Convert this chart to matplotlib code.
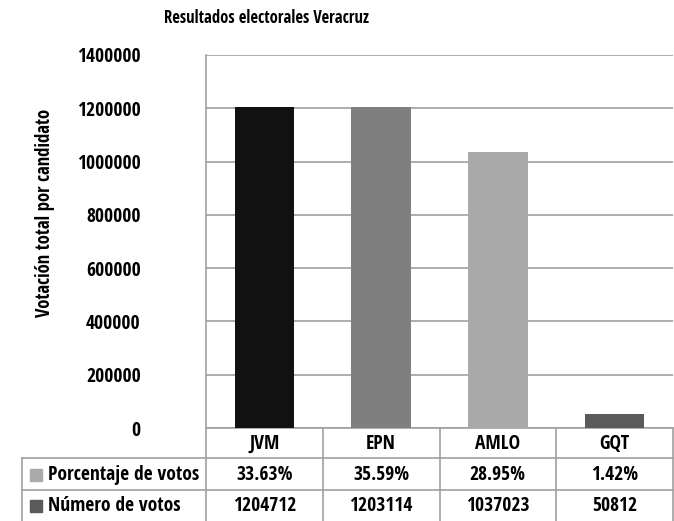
import matplotlib
matplotlib.use("Agg")
import matplotlib.pyplot as plt
from matplotlib.transforms import blended_transform_factory
from matplotlib.patches import Rectangle

candidates = ["JVM", "EPN", "AMLO", "GQT"]
votes = [1204712, 1203114, 1037023, 50812]
percentages = ["33.63%", "35.59%", "28.95%", "1.42%"]
vote_labels = ["1204712", "1203114", "1037023", "50812"]
row_labels = ["Porcentaje de votos", "Número de votos"]
bar_colors = ["#111111", "#7f7f7f", "#a9a9a9", "#5a5a5a"]
legend_colors = ["#aaaaaa", "#5a5a5a"]
yticks = [0, 200000, 400000, 600000, 800000, 1000000, 1200000, 1400000]

plt.rcParams['font.family'] = ['Open Sans Condensed', 'DejaVu Sans']
plt.rcParams['font.weight'] = 'bold'
FS = 14

W, H = 674, 521
fig = plt.figure(figsize=(W / 100, H / 100), dpi=100)
ax = fig.add_axes([206 / W, 1 - 428 / H, 467 / W, (428 - 55) / H])

x = list(range(len(candidates)))
ax.bar(x, votes, width=0.51, color=bar_colors, zorder=3)
ax.set_xlim(-0.5, len(candidates) - 0.5)
ax.set_ylim(0, 1400000)
ax.set_yticks(yticks)
ax.set_yticklabels([str(v) for v in yticks], fontsize=FS, fontweight='bold')
ax.tick_params(axis='y', length=0, pad=47)
ax.set_xticks([])
grid_c = "#a0a0a0"
ax.yaxis.grid(True, color=grid_c, linewidth=1.2, zorder=0)
for s in ["top", "right", "bottom"]:
    ax.spines[s].set_visible(False)
ax.spines["left"].set_color(grid_c)
ax.spines["left"].set_linewidth(1.2)

fig.text(45 / W, 1 - 213 / H, "Votación total por candidato", rotation=90, ha='center', va='center',
         fontsize=13.5, fontweight='bold')
fig.text(267 / W, 1 - 18 / H, "Resultados electorales Veracruz", ha='center', va='center',
         fontsize=12, fontweight='bold')

# table below
trans = blended_transform_factory(ax.transData, ax.transAxes)
ah = 428 - 55
def ay(py):
    return (428 - py) / ah

left_ax = (22 - 206) / 467
lw = 1.2
ax.plot([-0.5, 3.5], [ay(428)] * 2, transform=trans, color=grid_c, lw=lw, clip_on=False)
for py in [458, 490]:
    ax.plot([left_ax, 1], [ay(py)] * 2, transform=ax.transAxes, color=grid_c, lw=lw, clip_on=False)
for xb in [-0.5, 0.5, 1.5, 2.5, 3.5]:
    ax.plot([xb, xb], [ay(428), ay(521)], transform=trans, color=grid_c, lw=lw, clip_on=False)
ax.plot([left_ax, left_ax], [ay(458), ay(521)], transform=ax.transAxes, color=grid_c, lw=lw, clip_on=False)

for i, c in enumerate(candidates):
    ax.text(i, ay(444), c, transform=trans, ha='center', va='center', fontsize=FS, fontweight='bold')
    ax.text(i, ay(475), percentages[i], transform=trans, ha='center', va='center', fontsize=FS, fontweight='bold')
    ax.text(i, ay(506), vote_labels[i], transform=trans, ha='center', va='center', fontsize=FS, fontweight='bold')

for j, (lab, col) in enumerate(zip(row_labels, legend_colors)):
    cy = [475, 506][j]
    fig.patches.append(Rectangle((30 / W, 1 - (cy + 6) / H), 12 / W, 12 / H,
                                 transform=fig.transFigure, color=col))
    fig.text(48 / W, 1 - cy / H, lab, ha='left', va='center', fontsize=FS, fontweight='bold')

fig.savefig("out.png", dpi=100)
